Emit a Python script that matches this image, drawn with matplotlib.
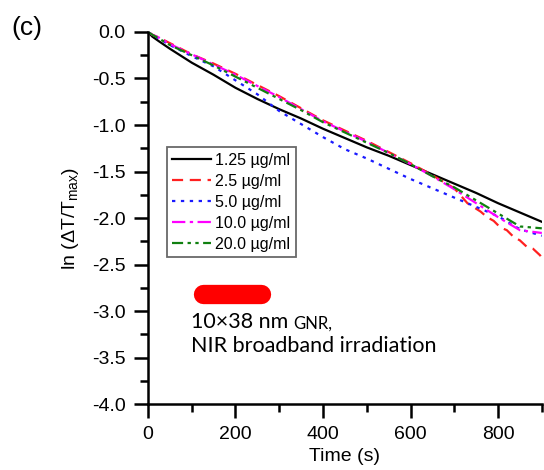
import matplotlib
matplotlib.use("Agg")
import matplotlib.pyplot as plt
from matplotlib.ticker import MultipleLocator

plt.rcParams['font.family'] = ['Liberation Sans', 'DejaVu Sans']
plt.rcParams['mathtext.fontset'] = 'custom'
plt.rcParams['mathtext.rm'] = 'Liberation Sans'
plt.rcParams['mathtext.it'] = 'Liberation Sans:italic'

# ---- data ----
time_s = [0, 10, 25, 50, 100, 150, 200, 250, 300, 350, 400, 450, 500, 550, 600, 650, 700, 750, 800, 850, 900]

c125 = [0, -0.05, -0.10, -0.18, -0.33, -0.46, -0.60, -0.72, -0.83, -0.93, -1.04, -1.14, -1.24, -1.33, -1.43, -1.53, -1.63, -1.73, -1.84, -1.94, -2.04]
c50 = [0, -0.03, -0.07, -0.14, -0.26, -0.37, -0.52, -0.67, -0.85, -0.99, -1.13, -1.26, -1.36, -1.47, -1.58, -1.68, -1.78, -1.88, -1.98, -2.12, -2.19]
c100 = [0, -0.03, -0.06, -0.13, -0.24, -0.35, -0.46, -0.58, -0.70, -0.83, -0.96, -1.07, -1.18, -1.30, -1.42, -1.55, -1.69, -1.84, -1.99, -2.13, -2.16]
c200 = [0, -0.03, -0.07, -0.14, -0.25, -0.36, -0.48, -0.60, -0.72, -0.84, -0.97, -1.08, -1.19, -1.30, -1.42, -1.55, -1.67, -1.81, -1.95, -2.09, -2.11]

time_red = [0, 10, 25, 50, 100, 150, 200, 250, 300, 350, 400, 450, 500, 550, 600, 650, 700, 730, 760, 775, 790, 805, 820, 835, 850, 866, 880, 896, 900]
c25 = [0, -0.03, -0.06, -0.12, -0.24, -0.34, -0.45, -0.57, -0.69, -0.82, -0.95, -1.06, -1.17, -1.29, -1.41, -1.54, -1.68, -1.84, -1.93, -1.99, -2.03, -2.10, -2.13, -2.20, -2.24, -2.31, -2.33, -2.40, -2.43]

labels = ['1.25 µg/ml', '2.5 µg/ml', '5.0 µg/ml', '10.0 µg/ml', '20.0 µg/ml']
xticks = [0, 200, 400, 600, 800]
yticks = [0.0, -0.5, -1.0, -1.5, -2.0, -2.5, -3.0, -3.5, -4.0]
pill_x = [126, 258]
pill_y = [-2.814, -2.814]

fig = plt.figure(figsize=(5.44, 4.70), dpi=100)
ax = fig.add_axes([0.272, 0.140, 0.724, 0.792])

ax.plot(time_s, c125, color='black', lw=1.6, ls='-', label=labels[0])
ax.plot(time_red, c25, color='#ff2020', lw=1.6, ls=(0, (5, 3)), label=labels[1])
ax.plot(time_s, c50, color='#1a1aff', lw=1.6, ls=(0, (1.5, 2.5)), label=labels[2])
ax.plot(time_s, c100, color='#ff00ff', lw=1.6, ls=(0, (6, 2, 1.5, 2)), label=labels[3])
ax.plot(time_s, c200, color='#108010', lw=1.6, ls=(0, (5, 2, 1.5, 2, 1.5, 2)), label=labels[4])

# red pill marker
ax.plot(pill_x, pill_y, color='#ff0000', lw=13.9, solid_capstyle='round')

anno_font = ['Lato', 'DejaVu Sans']
t0 = ax.text(98, -3.22, '10×38 nm', fontsize=15.5, family=anno_font, va='bottom')
ax.annotate('GNR,', xy=(1, 0), xycoords=t0, xytext=(4, 0), textcoords='offset points',
            fontsize=12, family=anno_font, va='bottom', ha='left')
ax.text(98, -3.48, 'NIR broadband irradiation', fontsize=15.5, family=anno_font, va='bottom')

ax.set_xlim(0, 900)
ax.set_ylim(-4.0, 0.0)
ax.set_xticks(xticks)
ax.set_yticks(yticks)
ax.set_yticklabels([f'{v:.1f}' for v in yticks])
ax.xaxis.set_minor_locator(MultipleLocator(100))
ax.yaxis.set_minor_locator(MultipleLocator(0.25))
ax.tick_params(which='major', direction='out', length=10, width=1.8, labelsize=14, pad=6)
ax.tick_params(which='minor', direction='out', length=5.5, width=1.8)
for s in ['top', 'right']:
    ax.spines[s].set_visible(False)
for s in ['left', 'bottom']:
    ax.spines[s].set_linewidth(1.8)

ax.set_xlabel('Time (s)', fontsize=14, labelpad=3)
ax.set_ylabel(r'ln ($\Delta$T/T$_{\mathrm{max}}$)', fontsize=14, labelpad=8)

leg = ax.legend(loc='upper left', bbox_to_anchor=(0.048, 0.691), fontsize=11.5,
                handlelength=2.4, handletextpad=0.25, labelspacing=0.38,
                borderpad=0.35, borderaxespad=0, fancybox=False, frameon=True)
leg.get_frame().set_edgecolor('#444444')
leg.get_frame().set_linewidth(1.3)

fig.text(0.02, 0.966, '(c)', fontsize=19, va='top')

fig.savefig('out.png', dpi=100)
